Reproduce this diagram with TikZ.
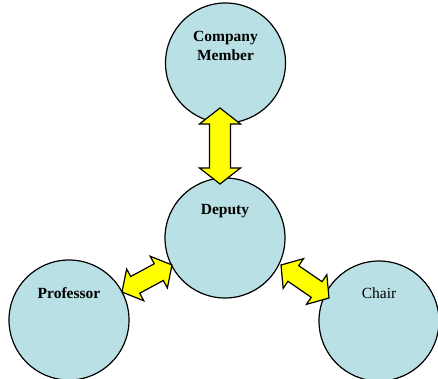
\documentclass[tikz,border=0pt]{standalone}
\usepackage{fontspec}
\setmainfont{Liberation Serif}
\usetikzlibrary{calc}
\definecolor{circfill}{RGB}{185,224,228}
\definecolor{arrfill}{RGB}{255,255,0}
\tikzset{
  roundbox/.style={circle, draw=black, line width=1.2pt, fill=circfill, minimum size=120pt, inner sep=0pt},
  labeltxt/.style={anchor=north, inner sep=0pt, align=center, font=\fontsize{15.5}{19}\selectfont},
  blockarr/.style={draw=black, line width=1.2pt, fill=arrfill, line join=miter}
}
% #1,#2 tips, #3 head length, #4 head half width, #5 shaft half width
\newcommand\myblockarrow[5]{%
  \draw[blockarr] (#1)
    -- ($(#1)!#3!(#2)!#4!90:(#2)$)
    -- ($(#1)!#3!(#2)!#5!90:(#2)$)
    -- ($(#2)!#3!(#1)!#5!-90:(#1)$)
    -- ($(#2)!#3!(#1)!#4!-90:(#1)$)
    -- (#2)
    -- ($(#2)!#3!(#1)!#4!90:(#1)$)
    -- ($(#2)!#3!(#1)!#5!90:(#1)$)
    -- ($(#1)!#3!(#2)!#5!-90:(#2)$)
    -- ($(#1)!#3!(#2)!#4!-90:(#2)$)
    -- cycle;}
\begin{document}
\begin{tikzpicture}[x=1pt,y=-1pt]
\useasboundingbox (0,0) rectangle (438,379);
\node[roundbox] (cm) at (225.5,63) {};
\node[roundbox] (dep) at (225,238) {};
\node[roundbox] (prof) at (69,320) {};
\node[roundbox] (chair) at (379,321) {};
\node[labeltxt, font=\bfseries\fontsize{15.5}{19}\selectfont] (cmT) at ($(cm.center)+(0,-32)$) {Company\\Member};
\node[labeltxt, font=\bfseries\fontsize{15.5}{19}\selectfont] (depT) at ($(dep.center)+(0,-34)$) {Deputy};
\node[labeltxt, font=\bfseries\fontsize{15.5}{19}\selectfont] (profT) at ($(prof.center)+(0,-33)$) {Professor};
\node[labeltxt] (chairT) at ($(chair.center)+(0,-33)$) {Chair};
\coordinate (v1) at (220,108);
\coordinate (v2) at (220,184);
\coordinate (l1) at (122,292);
\coordinate (l2) at (172,265);
\coordinate (r1) at (281,265);
\coordinate (r2) at (329,298);
\myblockarrow{v1}{v2}{16pt}{20.5pt}{10.5pt}
\myblockarrow{l1}{l2}{15pt}{18pt}{9.5pt}
\myblockarrow{r1}{r2}{15pt}{18pt}{9.5pt}
\end{tikzpicture}
\end{document}
